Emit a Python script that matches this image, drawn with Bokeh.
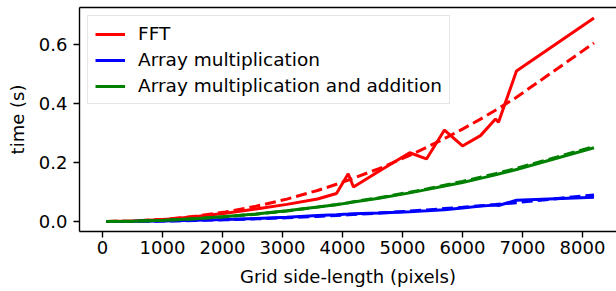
from bokeh.plotting import figure
from bokeh.models import Range1d, FixedTicker, PrintfTickFormatter, Legend, LegendItem, LinearAxis
from bokeh.embed import file_html
from bokeh.resources import INLINE

# Grid side-lengths (pixels)
sizes = [64, 512, 1024, 1536, 2048, 2560, 3072, 3584, 3900, 4096, 4183,
         4608, 5120, 5400, 5700, 6000, 6300, 6550, 6600, 6900, 8192]

fft_time = [0.0, 0.002, 0.007, 0.016, 0.028, 0.042, 0.058, 0.076, 0.095, 0.162, 0.117,
            0.170, 0.233, 0.212, 0.310, 0.256, 0.291, 0.347, 0.336, 0.510, 0.690]
fft_fit = [0.0, 0.0016, 0.0073, 0.0173, 0.032, 0.0515, 0.0758, 0.105, 0.126, 0.140, 0.147,
           0.179, 0.224, 0.251, 0.281, 0.313, 0.347, 0.377, 0.383, 0.421, 0.605]

mul_time = [0.0, 0.0005, 0.002, 0.004, 0.007, 0.010, 0.014, 0.020, 0.023, 0.025, 0.026,
            0.029, 0.033, 0.036, 0.040, 0.046, 0.052, 0.056, 0.054, 0.072, 0.082]
mul_fit = [0.0, 0.00035, 0.0014, 0.0032, 0.0056, 0.0088, 0.0127, 0.0172, 0.0204, 0.0225, 0.0237,
           0.0285, 0.0352, 0.0391, 0.0436, 0.048, 0.0532, 0.0575, 0.0584, 0.0638, 0.090]

muladd_time = [0.0, 0.001, 0.004, 0.009, 0.017, 0.025, 0.036, 0.049, 0.057, 0.063, 0.066,
               0.079, 0.097, 0.108, 0.120, 0.132, 0.146, 0.158, 0.161, 0.176, 0.250]
muladd_fit = [0.0, 0.001, 0.004, 0.0089, 0.0159, 0.0248, 0.0357, 0.0486, 0.0576, 0.0635, 0.0668,
              0.0804, 0.0992, 0.110, 0.123, 0.136, 0.150, 0.162, 0.165, 0.180, 0.254]

x_ticks = [0, 1000, 2000, 3000, 4000, 5000, 6000, 7000, 8000]
y_ticks = [0.0, 0.2, 0.4, 0.6]

FONT = "DejaVu Sans"
FS = "18px"

p = figure(width=616, height=291, output_backend="svg", toolbar_location=None,
           x_range=Range1d(-383, 8567), y_range=Range1d(-0.034, 0.7253),
           min_border_left=79, min_border_right=0, min_border_top=7, min_border_bottom=60)

p.grid.visible = False
p.background_fill_color = "white"
p.border_fill_color = "white"
p.outline_line_color = None

# top spine only (right spine is cut off in the reference)
top = LinearAxis(axis_line_width=1.4, major_tick_line_color=None, minor_tick_line_color=None,
                 major_label_text_font_size="0px", major_label_text_color=None)
p.add_layout(top, "above")

lw = 3
r_fft = p.line(sizes, fft_time, line_color="red", line_width=lw)
p.line(sizes, fft_fit, line_color="red", line_width=lw, line_dash="11 5")
r_mul = p.line(sizes, mul_time, line_color="blue", line_width=lw)
p.line(sizes, mul_fit, line_color="blue", line_width=lw, line_dash="11 5")
r_add = p.line(sizes, muladd_time, line_color="green", line_width=lw)
p.line(sizes, muladd_fit, line_color="green", line_width=lw, line_dash="11 5")

for ax in (p.below[0], p.left[0]):
    ax.axis_line_width = 1.4
    ax.major_tick_line_width = 1.4
    ax.major_tick_out = 6
    ax.major_tick_in = 0
    ax.minor_tick_line_color = None
    ax.major_label_text_font = FONT
    ax.major_label_text_font_size = FS
    ax.major_label_text_color = "black"
    ax.axis_label_text_font = FONT
    ax.axis_label_text_font_size = FS
    ax.axis_label_text_font_style = "normal"
    ax.axis_label_text_color = "black"

p.below[0].ticker = FixedTicker(ticks=x_ticks)
p.left[0].ticker = FixedTicker(ticks=y_ticks)
p.left[0].formatter = PrintfTickFormatter(format="%.1f")
p.below[0].axis_label = "Grid side-length (pixels)"
p.left[0].axis_label = "time (s)"
p.below[0].major_label_standoff = 3
p.left[0].major_label_standoff = 6
p.below[0].axis_label_standoff = 9
p.left[0].axis_label_standoff = 8

legend = Legend(items=[
    LegendItem(label="FFT", renderers=[r_fft]),
    LegendItem(label="Array multiplication", renderers=[r_mul]),
    LegendItem(label="Array multiplication and addition", renderers=[r_add]),
], location="top_left")
legend.label_text_font = FONT
legend.label_text_font_size = "18.5px"
legend.label_text_color = "black"
legend.glyph_width = 30
legend.label_standoff = 13
legend.spacing = 5
legend.padding = 7
legend.margin = 8
legend.border_line_color = "#cccccc"
legend.border_line_width = 1
legend.background_fill_alpha = 0.8
p.add_layout(legend)

open("out.html", "w").write(file_html(p, INLINE))
